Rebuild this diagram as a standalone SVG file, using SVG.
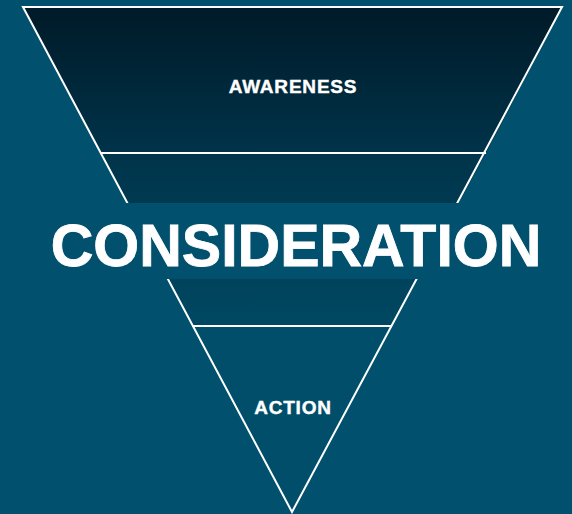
<svg xmlns="http://www.w3.org/2000/svg" width="572" height="514" viewBox="0 0 572 514">
<defs>
<linearGradient id="gTop" x1="0" y1="0" x2="0" y2="1">
<stop offset="0" stop-color="#001a28"/>
<stop offset="1" stop-color="#00334a"/>
</linearGradient>
<linearGradient id="gMid" gradientUnits="userSpaceOnUse" x1="0" y1="153" x2="0" y2="326">
<stop offset="0" stop-color="#00344a"/>
<stop offset="1" stop-color="#004862"/>
</linearGradient>
<style>
.edge{fill:none;stroke:#ffffff;stroke-width:2;stroke-linejoin:miter}
.lbl{font-family:"Liberation Sans",Arial,sans-serif;font-weight:bold;fill:#ffffff;text-anchor:middle}
.small{font-size:19px;letter-spacing:0.8px;stroke:#ffffff;stroke-width:0.4px}
.big{font-size:59px;stroke:#ffffff;stroke-width:0.8px}
</style>
</defs>
<rect width="572" height="514" fill="#00506e"/>
<g id="awareness">
<polygon points="23,7 562,7 486,153 101,153" fill="url(#gTop)"/>
<text class="lbl small" x="293" y="93">AWARENESS</text>
</g>
<g id="consideration-segment">
<polygon points="101,153 486,153 391,326 193,326" fill="url(#gMid)"/>
</g>
<g id="action">
<polygon points="193,326 391,326 292,512" fill="#004e6a"/>
<text class="lbl small" x="293" y="414">ACTION</text>
</g>
<g id="connectors">
<polygon class="edge" points="23,7 562,7 292,512"/>
<line class="edge" x1="101" y1="153" x2="486" y2="153"/>
<line class="edge" x1="193" y1="326" x2="391" y2="326"/>
</g>
<g id="consideration">
<rect x="0" y="203" width="572" height="76" fill="#00506e"/>
<text class="lbl big" x="296" y="266">CONSIDERATION</text>
</g>
</svg>
